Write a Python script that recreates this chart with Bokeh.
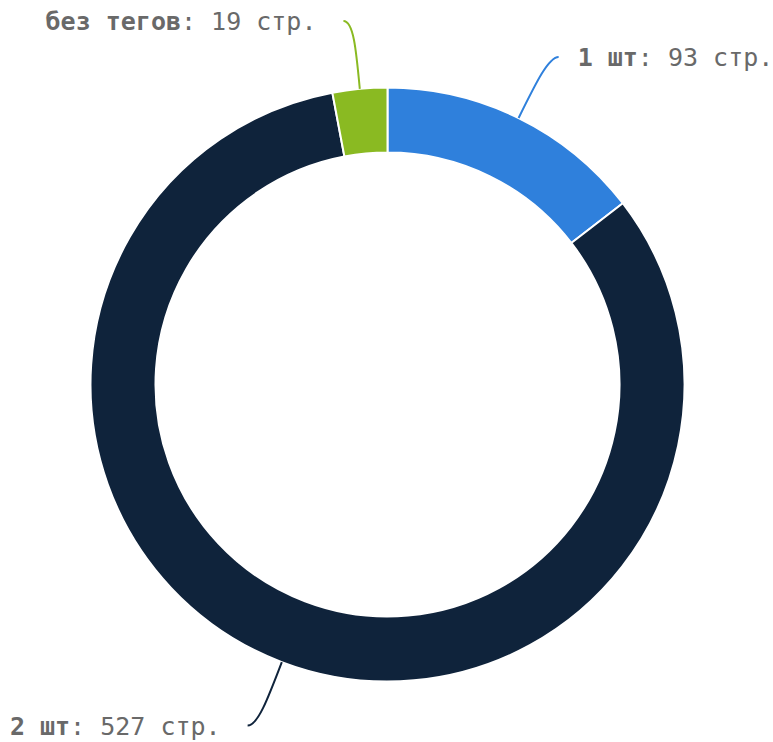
import math
from bokeh.plotting import figure
from bokeh.models import Range1d, ColumnDataSource
from bokeh.core.properties import value
from bokeh.embed import file_html
from bokeh.resources import INLINE

# ---- data ----
categories = ["1 шт", "2 шт", "без тегов"]
pages = [93, 527, 19]
colors = ["#2f80dc", "#0f233b", "#8aba22"]
unit = "стр."

# ---- layout (data units == screen pixels) ----
W, H = 773, 742
CX, CY = 387, H - 384
R_OUT, R_IN = 297, 232
FONT = "DejaVu Sans Mono"
FS = 25
CHW = 0.60205 * FS
TEXT_COLOR = "#696969"

p = figure(width=W, height=H, output_backend="svg", toolbar_location=None,
           x_range=Range1d(0, W), y_range=Range1d(0, H),
           x_axis_location=None, y_axis_location=None, min_border=0)
p.grid.visible = False
p.outline_line_color = None
p.background_fill_color = "white"
p.border_fill_color = "white"

total = sum(pages)
starts, ends, mids = [], [], []
c = 0.0
for v in pages:
    a0 = c / total * 360.0
    c += v
    a1 = c / total * 360.0
    # clockwise from 12 o'clock -> bokeh math angles
    starts.append(math.radians(90 - a1))
    ends.append(math.radians(90 - a0))
    mids.append((a0 + a1) / 2)

src = ColumnDataSource(dict(start=starts, end=ends, color=colors))
p.annular_wedge(x=CX, y=CY, inner_radius=R_IN, outer_radius=R_OUT,
                start_angle="start", end_angle="end", fill_color="color",
                line_color="white", line_width=2, source=src)

def pt(ang_deg, r):
    a = math.radians(ang_deg)
    return CX + r * math.sin(a), CY + r * math.cos(a)

for cat, v, col, m in zip(categories, pages, colors, mids):
    side = 1 if math.sin(math.radians(m)) >= 0 else -1
    S = pt(m, R_OUT)
    C0 = pt(m, R_OUT + 40)
    K = pt(m, R_OUT + 68)
    E = (K[0] + side * 10, K[1])
    p.bezier(x0=[S[0]], y0=[S[1]], x1=[E[0]], y1=[E[1]],
             cx0=[C0[0]], cy0=[C0[1]], cx1=[K[0]], cy1=[K[1]],
             line_color=col, line_width=2)
    bold = cat
    rest = f": {v} {unit}"
    ty = E[1] - 0.5
    if side > 0:
        x_b = E[0] + 19
        x_r = x_b + len(bold) * CHW
    else:
        x_end = E[0] - 27
        x_r = x_end - len(rest) * CHW
        x_b = x_r - len(bold) * CHW
    p.text(x=[x_b], y=[ty], text=[bold], text_font=value(FONT),
           text_font_size=f"{FS}px", text_font_style="bold",
           text_color=TEXT_COLOR, text_align="left", text_baseline="alphabetic")
    p.text(x=[x_r], y=[ty], text=[rest], text_font=value(FONT),
           text_font_size=f"{FS}px", text_font_style="normal",
           text_color=TEXT_COLOR, text_align="left", text_baseline="alphabetic")

open("out.html", "w").write(file_html(p, INLINE))
